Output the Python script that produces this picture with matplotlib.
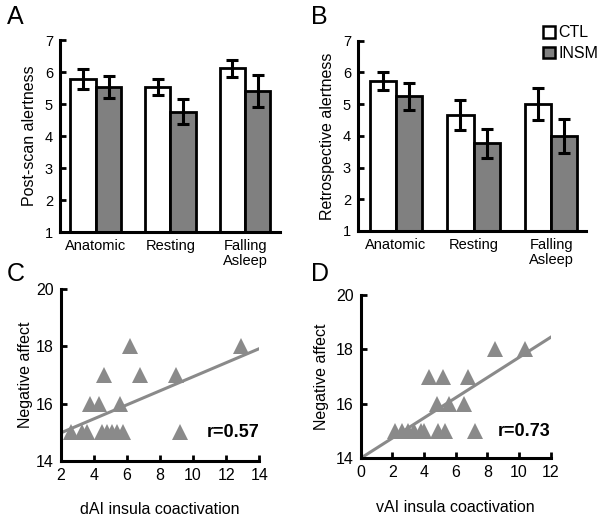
import matplotlib
matplotlib.use("Agg")
import matplotlib.pyplot as plt
from matplotlib.patches import Patch

plt.rcParams['font.family'] = ['Liberation Sans', 'DejaVu Sans']

# ---- data ----
categories = ["Anatomic", "Resting", "Falling\nAsleep"]
post_ctl = [5.77, 5.54, 6.11]
post_ctl_err = [0.31, 0.25, 0.27]
post_insm = [5.54, 4.76, 5.42]
post_insm_err = [0.35, 0.40, 0.50]

retro_ctl = [5.72, 4.65, 5.00]
retro_ctl_err = [0.28, 0.48, 0.50]
retro_insm = [5.24, 3.76, 3.99]
retro_insm_err = [0.42, 0.47, 0.54]

c_x = [6.2, 12.9, 4.6, 6.8, 9.0, 3.8, 4.3, 5.6,
       2.6, 3.3, 3.6, 4.5, 4.8, 5.1, 5.4, 5.8, 9.2]
c_y = [18, 18, 17, 17, 17, 16, 16, 16,
       15, 15, 15, 15, 15, 15, 15, 15, 15]
c_fit_x = [2.0, 13.95]
c_fit_y = [14.97, 17.91]

d_x = [8.5, 10.4, 4.3, 5.2, 6.8, 4.8, 5.6, 6.5,
       2.2, 2.6, 3.0, 3.4, 3.8, 4.0, 4.9, 5.3, 7.2]
d_y = [18, 18, 17, 17, 17, 16, 16, 16,
       15, 15, 15, 15, 15, 15, 15, 15, 15]
d_fit_x = [0.0, 12.0]
d_fit_y = [14.0, 18.45]

GRAY = "#808080"
MGRAY = "#8a8a8a"

fig = plt.figure(figsize=(6, 5.28), dpi=100)


def style_axes(ax):
    for s in ("top", "right"):
        ax.spines[s].set_visible(False)
    for s in ("left", "bottom"):
        ax.spines[s].set_linewidth(2.2)
    ax.tick_params(direction="in", length=4, width=2, labelsize=10.5, pad=5)


def bar_panel(rect, ctl, ctl_err, insm, insm_err, ylabel, xlim):
    ax = fig.add_axes(rect)
    w = 0.34
    x = list(range(len(categories)))
    xl = [v - w for v in x]
    ax.bar(xl, ctl, w, align="edge", color="white", edgecolor="black",
           linewidth=2, zorder=2)
    ax.bar(x, insm, w, align="edge", color=GRAY, edgecolor="black",
           linewidth=2, zorder=2)
    ax.errorbar([v - w / 2 for v in x], ctl, yerr=ctl_err, fmt="none",
                ecolor="black", elinewidth=2.2, capsize=4, capthick=2.2, zorder=3)
    ax.errorbar([v + w / 2 for v in x], insm, yerr=insm_err, fmt="none",
                ecolor="black", elinewidth=2.2, capsize=4, capthick=2.2, zorder=3)
    ax.set_ylim(1, 7)
    ax.set_xlim(*xlim)
    ax.set_yticks(range(1, 8))
    ax.set_xticks(x)
    ax.set_xticklabels(categories, fontsize=10.5, linespacing=1.1)
    style_axes(ax)
    ax.tick_params(axis="x", length=0, pad=5)
    ax.set_ylabel(ylabel, fontsize=11.5, labelpad=6)
    return ax


axA = bar_panel([0.100, 0.5606, 0.367, 0.3636], post_ctl, post_ctl_err,
                post_insm, post_insm_err, "Post-scan alertness", (-0.48, 2.47))
axB = bar_panel([0.5967, 0.5625, 0.380, 0.3605], retro_ctl, retro_ctl_err,
                retro_insm, retro_insm_err, "Retrospective alertness", (-0.49, 2.45))

handles = [Patch(facecolor="white", edgecolor="black", linewidth=1.8),
           Patch(facecolor=GRAY, edgecolor="black", linewidth=1.8)]
axB.legend(handles, ["CTL", "INSM"], loc="upper right",
           bbox_to_anchor=(0.997, 0.952), bbox_transform=fig.transFigure,
           frameon=False, fontsize=11.5, handlelength=0.75, handleheight=0.75,
           handletextpad=0.2, labelspacing=0.35, borderpad=0, borderaxespad=0)


def scatter_panel(rect, xs, ys, fx, fy, xlim, xticks, xlabel, rtext, ypad):
    ax = fig.add_axes(rect)
    ax.plot(fx, fy, color=MGRAY, linewidth=2.2, zorder=2)
    ax.plot(xs, ys, linestyle="none", marker="^", markersize=12,
            color=MGRAY, markeredgewidth=0, zorder=3, clip_on=False)
    ax.set_xlim(*xlim)
    ax.set_ylim(14, 20)
    ax.set_xticks(xticks)
    ax.set_yticks([14, 16, 18, 20])
    style_axes(ax)
    ax.tick_params(labelsize=11.5)
    ax.set_xlabel(xlabel, fontsize=11.5, labelpad=14)
    ax.set_ylabel("Negative affect", fontsize=11.5, labelpad=ypad)
    ax.text(xlim[1], 15.0, rtext,
            ha="right", va="center", fontsize=13, fontweight="bold")
    return ax


scatter_panel([0.101, 0.1275, 0.331, 0.3245], c_x, c_y, c_fit_x, c_fit_y,
              (2, 14), list(range(2, 15, 2)), "dAI insula coactivation", "r=0.57", 2)
scatter_panel([0.601, 0.132, 0.317, 0.3093], d_x, d_y, d_fit_x, d_fit_y,
              (0, 12), list(range(0, 13, 2)), "vAI insula coactivation", "r=0.73", 5)

for lbl, x, y in [("A", 0.012, 0.99), ("B", 0.518, 0.99),
                  ("C", 0.012, 0.503), ("D", 0.518, 0.503)]:
    fig.text(x, y, lbl, fontsize=18, va="top", ha="left")

fig.savefig("out.png", dpi=100)
